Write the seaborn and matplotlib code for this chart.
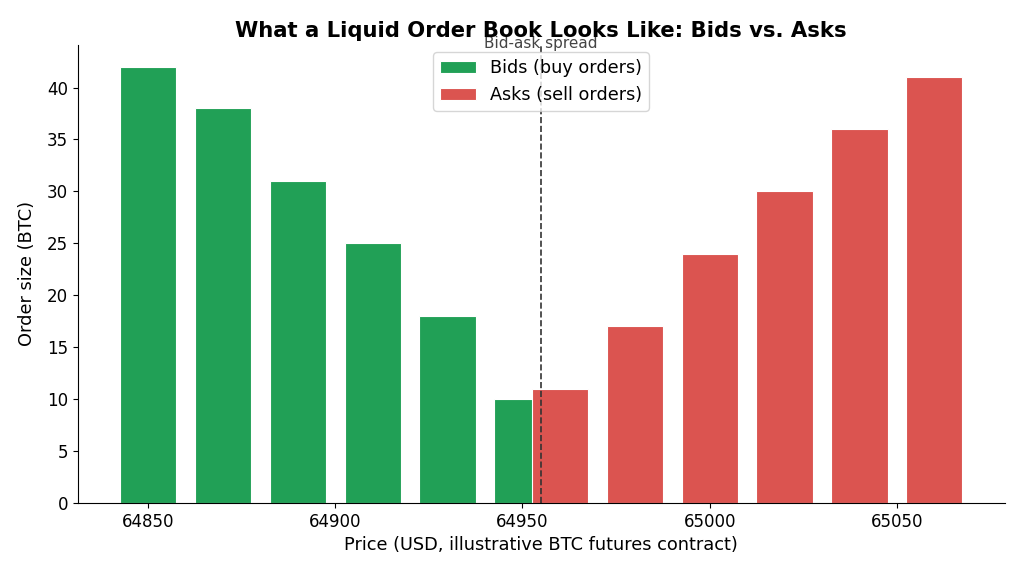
import numpy as np
import pandas as pd
import matplotlib
matplotlib.use("Agg")
import matplotlib.pyplot as plt
import seaborn as sns

# order book levels (price in USD, size in BTC)
bid_prices = [64850, 64870, 64890, 64910, 64930, 64950]
bid_sizes = [42, 38, 31, 25, 18, 10]
ask_prices = [64960, 64980, 65000, 65020, 65040, 65060]
ask_sizes = [11, 17, 24, 30, 36, 41]
x_ticks = [64850, 64900, 64950, 65000, 65050]

bid_color = "#21A056"
ask_color = "#DB5450"

plt.rcParams['font.family'] = ['DejaVu Sans']

fig, ax = plt.subplots(figsize=(10.24, 5.76), dpi=100)
fig.subplots_adjust(left=0.076, right=0.981, top=0.922, bottom=0.127)

bids = pd.DataFrame({"price": bid_prices, "size": bid_sizes})
asks = pd.DataFrame({"price": ask_prices, "size": ask_sizes})

sns.barplot(data=bids, x="price", y="size", native_scale=True, width=0.75,
            color=bid_color, saturation=1, edgecolor="white", linewidth=0.8,
            label="Bids (buy orders)", ax=ax)
sns.barplot(data=asks, x="price", y="size", native_scale=True, width=0.75,
            color=ask_color, saturation=1, edgecolor="white", linewidth=0.8,
            label="Asks (sell orders)", ax=ax)

# mid point between best bid and best ask
spread_mid = (bid_prices[-1] + ask_prices[0]) / 2
ax.axvline(spread_mid, color="#333333", linestyle="--", linewidth=1.2)
ax.text(spread_mid, 43.5, "Bid-ask spread", ha="center", va="bottom",
        fontsize=11, color="#444444")

ax.set_xticks(x_ticks)
ax.set_xticklabels([str(t) for t in x_ticks])
ax.tick_params(labelsize=12)
ax.set_xlabel("Price (USD, illustrative BTC futures contract)", fontsize=12.8)
ax.set_ylabel("Order size (BTC)", fontsize=12.8, labelpad=8)
ax.set_title("What a Liquid Order Book Looks Like: Bids vs. Asks",
             fontsize=15.2, fontweight="bold")
ax.legend(loc="upper center", fontsize=12.7, borderaxespad=0.4)
sns.despine(ax=ax)

plt.savefig("out.png", dpi=100)
